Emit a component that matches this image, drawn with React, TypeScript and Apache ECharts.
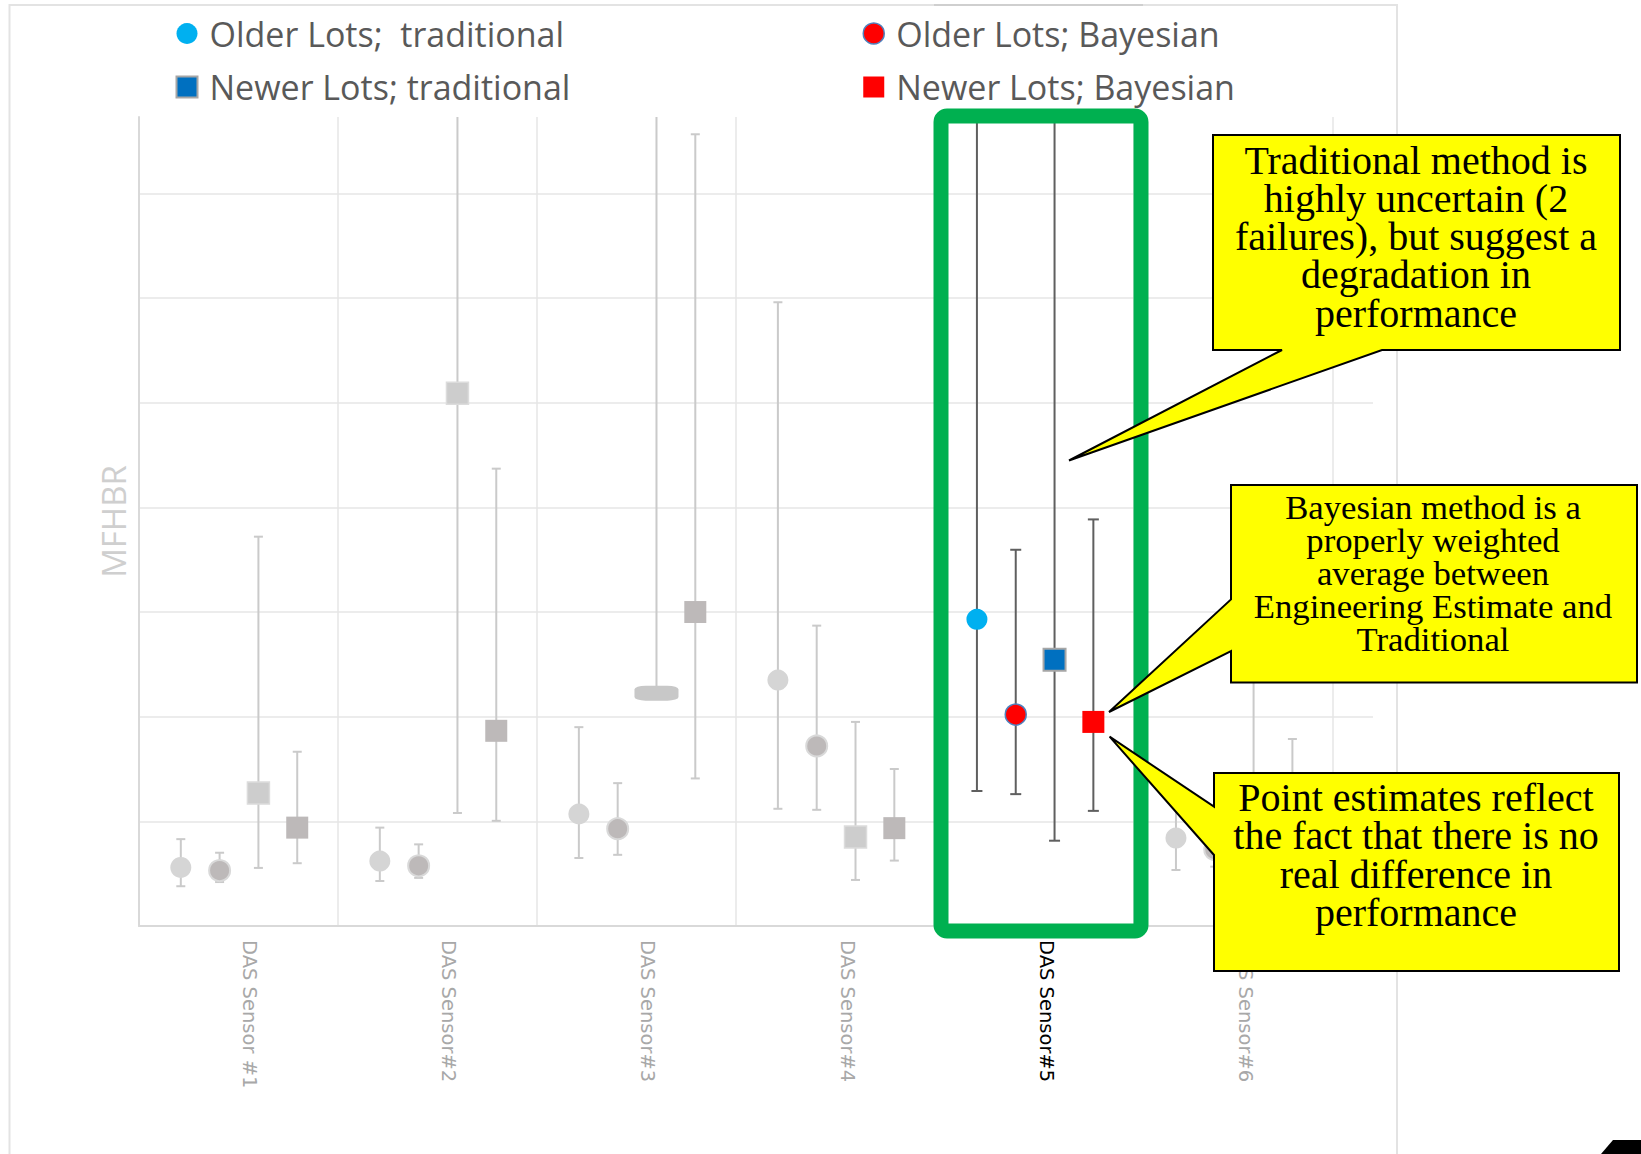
import React, { useEffect, useRef } from 'react';
import * as echarts from 'echarts';

// ---------- data ----------
const categories = ['DAS Sensor #1', 'DAS Sensor#2', 'DAS Sensor#3', 'DAS Sensor#4', 'DAS Sensor#5', 'DAS Sensor#6'];
const highlightIndex = 4;

const seriesNames = ['Older Lots;  traditional', 'Older Lots; Bayesian', 'Newer Lots; traditional', 'Newer Lots; Bayesian'];
const slotOffsets = [-0.29, -0.095, 0.1, 0.295];

const olderTraditional = [0.56, 0.62, 1.07, 2.35, 2.93, 0.84];
const olderTraditionalLow = [0.38, 0.43, 0.65, 1.12, 1.29, 0.535];
const olderTraditionalHigh = [0.83, 0.94, 1.9, 5.96, 9, 1.25];

const olderBayesian = [0.53, 0.575, 0.93, 1.72, 2.02, 0.73];
const olderBayesianLow = [0.42, 0.46, 0.68, 1.11, 1.26, 0.567];
const olderBayesianHigh = [0.7, 0.78, 1.365, 2.87, 3.595, 1.0];

const newerTraditional = [1.27, 5.09, 2.225, 0.85, 2.545, 1.2];
const newerTraditionalLow = [0.555, 1.08, 2.225, 0.44, 0.815, 0.65];
const newerTraditionalHigh = [3.72, 9, 9, 1.95, 9, 3.0];

const newerBayesian = [0.94, 1.865, 3.0, 0.935, 1.95, 1.1];
const newerBayesianLow = [0.6, 1.005, 1.41, 0.625, 1.1, 0.75];
const newerBayesianHigh = [1.665, 4.37, 7.565, 1.5, 3.885, 1.787];

const Y_MAX = 7.73;
const X_MAX = 6.2;

const callout1Lines = ['Traditional method is', 'highly uncertain (2', 'failures), but suggest a', 'degradation in', 'performance'];
const callout2Lines = ['Bayesian method is a', 'properly weighted', 'average between', 'Engineering Estimate and', 'Traditional'];
const callout3Lines = ['Point estimates reflect', 'the fact that there is no', 'real difference in', 'performance'];

// ---------- styles ----------
const points = [olderTraditional, olderBayesian, newerTraditional, newerBayesian];
const lows = [olderTraditionalLow, olderBayesianLow, newerTraditionalLow, newerBayesianLow];
const highs = [olderTraditionalHigh, olderBayesianHigh, newerTraditionalHigh, newerBayesianHigh];
const symbols = ['circle', 'circle', 'rect', 'rect'];
const symbolSizes = [21, 21, 22, 22];
const grayStyles: any[] = [
  { color: '#d5d5d5', borderWidth: 0 },
  { color: '#bdb9b9', borderColor: '#d9d9d9', borderWidth: 2 },
  { color: '#cdcdcd', borderColor: '#dcdcdc', borderWidth: 1.5 },
  { color: '#bdb9b9', borderWidth: 0 },
];
const hiStyles: any[] = [
  { color: '#00b0f0' },
  { color: '#ff0000', borderColor: '#4f81bd', borderWidth: 1.5 },
  { color: '#0070c0', borderColor: '#a6a6a6', borderWidth: 2 },
  { color: '#ff0000' },
];

function errorRender(params: any, api: any) {
  const x = api.value(0);
  const lo = api.value(1);
  const hi = api.value(2);
  const hl = api.value(3);
  const top = api.coord([x, Math.min(hi, Y_MAX)]);
  const bot = api.coord([x, lo]);
  const style = { stroke: hl ? '#5f5f5f' : '#cacaca', lineWidth: 2 };
  const cap = hl ? 5.5 : 4.5;
  const children: any[] = [
    { type: 'line', shape: { x1: top[0], y1: top[1], x2: bot[0], y2: bot[1] }, style },
    { type: 'line', shape: { x1: bot[0] - cap, y1: bot[1], x2: bot[0] + cap, y2: bot[1] }, style },
  ];
  if (hi <= Y_MAX) {
    children.push({ type: 'line', shape: { x1: top[0] - cap, y1: top[1], x2: top[0] + cap, y2: top[1] }, style });
  }
  return { type: 'group', children };
}

function calloutText(lines: string[], cx: number, firstBaseline: number, step: number, size: number) {
  return {
    type: 'text',
    z: 102,
    silent: true,
    style: {
      text: lines.join('\n'),
      x: cx,
      y: firstBaseline - step / 2 - 0.3375 * size,
      align: 'center',
      textAlign: 'center',
      verticalAlign: 'top',
      textVerticalAlign: 'top',
      lineHeight: step,
      fontFamily: '"Liberation Serif", "Times New Roman", serif',
      fontSize: size,
      fill: '#000',
    },
  };
}

function buildOption(): any {
  const series: any[] = [];
  for (let s = 0; s < 4; s++) {
    series.push({
      name: 'err-' + s,
      type: 'custom',
      xAxisIndex: 0,
      yAxisIndex: 0,
      renderItem: errorRender,
      z: 3,
      silent: true,
      data: categories.map((_, i) => [i + 0.5 + slotOffsets[s], lows[s][i], highs[s][i], i === highlightIndex ? 1 : 0]),
    });
  }
  for (let s = 0; s < 4; s++) {
    series.push({
      name: seriesNames[s],
      type: 'scatter',
      xAxisIndex: 0,
      yAxisIndex: 0,
      symbol: symbols[s],
      symbolSize: symbolSizes[s],
      z: 5,
      itemStyle: { ...hiStyles[s], opacity: 1 },
      data: categories.map((_, i) => {
        const item: any = { value: [i + 0.5 + slotOffsets[s], points[s][i]] };
        if (i !== highlightIndex) item.itemStyle = { ...grayStyles[s] };
        if (s === 2 && i === 2) {
          item.symbol = 'roundRect';
          item.symbolSize = [44, 15];
          item.itemStyle = { color: '#c8c8c8', borderWidth: 0 };
        }
        return item;
      }),
    });
  }

  const legendCommon = {
    orient: 'vertical',
    top: 13.5,
    padding: 0,
    itemWidth: 21,
    itemHeight: 21,
    itemGap: 13.5,
    selectedMode: false,
    textStyle: {
      fontFamily: '"Open Sans", sans-serif',
      fontSize: 34,
      color: '#595959',
      lineHeight: 40,
      padding: [0, 0, 0, 7],
    },
  };

  return {
    animation: false,
    backgroundColor: '#ffffff',
    legend: [
      {
        ...legendCommon,
        left: 175.5,
        data: [
          { name: seriesNames[0], icon: 'circle', itemStyle: { color: '#00b0f0' } },
          { name: seriesNames[2], icon: 'rect', itemStyle: { color: '#0070c0', borderColor: '#a6a6a6', borderWidth: 2 } },
        ],
      },
      {
        ...legendCommon,
        left: 862.5,
        data: [
          { name: seriesNames[1], icon: 'circle', itemStyle: { color: '#ff0000', borderColor: '#4f81bd', borderWidth: 1.5 } },
          { name: seriesNames[3], icon: 'rect', itemStyle: { color: '#ff0000' } },
        ],
      },
    ],
    grid: [
      // plotting grid (x runs 0..6.2 like the source XY chart)
      { left: 139, top: 117, height: 809, width: 1234 },
      // label-only grid, offset so the rotated labels sit right of the category centres
      { left: 150, top: 117, height: 809, width: 1195 },
    ],
    xAxis: [
      {
        type: 'value',
        gridIndex: 0,
        min: 0,
        max: X_MAX,
        interval: 1,
        axisLine: { show: true, onZero: false, lineStyle: { color: '#d9d9d9', width: 2 } },
        axisTick: { show: false },
        axisLabel: { show: false },
        splitLine: { show: true, showMinLine: false, showMaxLine: false, lineStyle: { color: '#e6e6e6', width: 1.5 } },
      },
      {
        type: 'category',
        gridIndex: 1,
        data: categories.map((c, i) => ({
          value: c,
          textStyle: { color: i === highlightIndex ? '#000000' : '#a8a8a8' },
        })),
        boundaryGap: true,
        axisLine: { show: false },
        axisTick: { show: false },
        axisLabel: {
          rotate: -90,
          margin: 14,
          fontFamily: '"DejaVu Sans", sans-serif',
          fontSize: 19.5,
          color: '#a8a8a8',
          interval: 0,
        },
        splitLine: { show: false },
      },
    ],
    yAxis: [
      {
        type: 'value',
        gridIndex: 0,
        min: 0,
        max: Y_MAX,
        interval: 1,
        name: 'MFHBR',
        nameLocation: 'middle',
        nameRotate: 90,
        nameGap: 9.5,
        nameTextStyle: { fontFamily: '"Open Sans", sans-serif', fontSize: 33, color: '#cfcfcf' },
        axisLine: { show: true, lineStyle: { color: '#d9d9d9', width: 2 } },
        axisTick: { show: false },
        axisLabel: { show: false },
        splitLine: { show: true, showMaxLine: false, lineStyle: { color: '#e6e6e6', width: 1.5 } },
      },
      {
        type: 'value',
        gridIndex: 1,
        min: 0,
        max: Y_MAX,
        interval: 1,
        show: false,
        splitLine: { show: false },
      },
    ],
    series,
    graphic: {
      elements: [
        // outer chart frame
        { type: 'rect', z: -1, silent: true, shape: { x: 9.5, y: 5, width: 1387.5, height: 1160 }, style: { fill: 'none', stroke: '#e3e3e3', lineWidth: 2 } },
        { type: 'line', z: 1, silent: true, shape: { x1: 934, y1: 5, x2: 1143, y2: 5 }, style: { stroke: '#cfcfcf', lineWidth: 2 } },
        // green highlight box
        { type: 'rect', z: 100, silent: true, shape: { x: 941, y: 116, width: 200, height: 815, r: 6 }, style: { fill: 'none', stroke: '#00b050', lineWidth: 15 } },
        // callout 1
        {
          type: 'polygon', z: 101, silent: true,
          shape: { points: [[1213, 135], [1620, 135], [1620, 350], [1382, 350], [1069, 460.5], [1282, 350], [1213, 350]] },
          style: { fill: '#ffff00', stroke: '#000000', lineWidth: 2 },
        },
        calloutText(callout1Lines, 1416, 173.5, 38.3, 40),
        // callout 2
        {
          type: 'polygon', z: 101, silent: true,
          shape: { points: [[1231, 485], [1637, 485], [1637, 682.5], [1231, 682.5], [1231, 651], [1109, 712], [1231, 599.4]] },
          style: { fill: '#ffff00', stroke: '#000000', lineWidth: 2 },
        },
        calloutText(callout2Lines, 1433, 519, 33, 34.7),
        // callout 3
        {
          type: 'polygon', z: 101, silent: true,
          shape: { points: [[1214, 773], [1619, 773], [1619, 971], [1214, 971], [1214, 855], [1109.6, 736.7], [1214, 806.7]] },
          style: { fill: '#ffff00', stroke: '#000000', lineWidth: 2 },
        },
        calloutText(callout3Lines, 1416, 811, 38.3, 40),
        // corner shape
        {
          type: 'polygon', z: 101, silent: true,
          shape: { points: [[1601, 1154], [1613, 1140], [1641, 1140], [1641, 1154]] },
          style: { fill: '#000000' },
        },
      ],
    },
  };
}

export default function App() {
  const ref = useRef<HTMLDivElement>(null);
  useEffect(() => {
    if (!ref.current) return;
    const chart = echarts.init(ref.current, undefined, { renderer: 'svg' });
    chart.setOption(buildOption());
    return () => chart.dispose();
  }, []);
  return (
    <div
      ref={ref}
      style={{ position: 'absolute', left: 0, top: 0, width: 1641, height: 1154, background: '#ffffff' }}
    />
  );
}
